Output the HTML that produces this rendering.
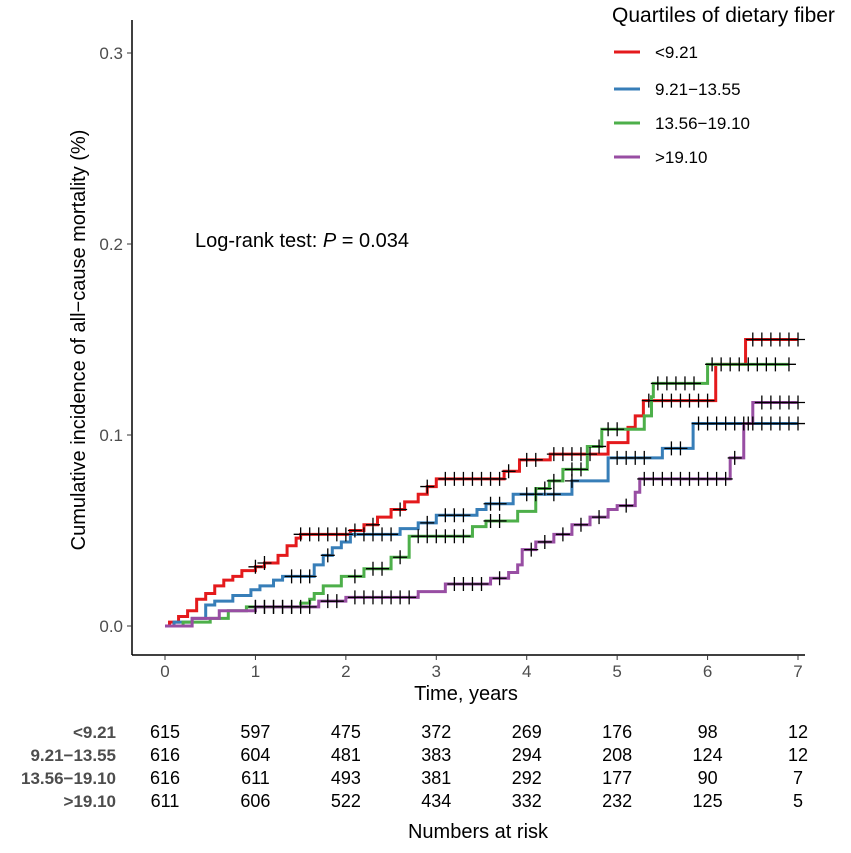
<!DOCTYPE html>
<html><head><meta charset="utf-8"><style>
body{margin:0;background:#fff;font-family:"Liberation Sans",Arial,sans-serif;}
svg text{font-family:"Liberation Sans",Arial,sans-serif;}
</style></head><body>
<svg id="chart" width="851" height="848" viewBox="0 0 851 848">
<g id="axes"></g>
<g id="series"></g>
<g id="marks"></g>
<text x="85" y="340" font-size="20" text-anchor="middle" transform="rotate(-90 85 340)">Cumulative incidence of all−cause mortality (%)</text>
<text x="466" y="700" font-size="20" text-anchor="middle">Time, years</text>
<text x="195" y="247" font-size="20">Log-rank test: <tspan font-style="italic">P</tspan> = 0.034</text>
<text x="612" y="22" font-size="21">Quartiles of dietary fiber</text>
<g id="legend"></g>
<g id="risk"></g>
<text x="478" y="838" font-size="20" text-anchor="middle">Numbers at risk</text>
</svg>
<script>
const groups=["<9.21","9.21−13.55","13.56−19.10",">19.10"];
const colors=["#e41a1c","#377eb8","#4daf4a","#984ea3"];
const xTicks=[0,1,2,3,4,5,6,7];
const yTicks=[0.0,0.1,0.2,0.3];
const yTickLabels=["0.0","0.1","0.2","0.3"];
const redT=[0,0.05,0.15,0.25,0.35,0.45,0.55,0.65,0.75,0.85,1.0,1.1,1.25,1.35,1.45,1.5,2.05,2.2,2.35,2.5,2.65,2.8,2.9,3.0,3.75,3.92,4.26,4.9,5.12,5.2,5.29,6.09,6.42];
const redV=[0,0.002,0.005,0.008,0.014,0.017,0.021,0.024,0.026,0.029,0.031,0.033,0.037,0.042,0.046,0.048,0.050,0.053,0.057,0.061,0.065,0.069,0.073,0.077,0.081,0.087,0.090,0.096,0.104,0.110,0.118,0.137,0.150];
const blueT=[0,0.1,0.3,0.45,0.55,0.75,0.95,1.05,1.2,1.3,1.65,1.75,1.85,1.95,2.05,2.6,2.8,3.0,3.45,3.55,3.85,4.5,4.9,5.5,5.84];
const blueV=[0,0.002,0.004,0.011,0.013,0.016,0.019,0.021,0.024,0.026,0.032,0.037,0.041,0.044,0.048,0.051,0.054,0.058,0.061,0.064,0.069,0.076,0.088,0.093,0.106];
const greenT=[0,0.2,0.5,0.7,0.9,1.0,1.5,1.6,1.65,1.75,1.95,2.2,2.5,2.7,3.4,3.55,3.9,4.1,4.25,4.4,4.67,4.83,5.3,5.38,5.4,6.0];
const greenV=[0,0.002,0.004,0.008,0.010,0.010,0.012,0.014,0.017,0.021,0.026,0.030,0.036,0.047,0.052,0.055,0.060,0.072,0.076,0.082,0.094,0.103,0.110,0.120,0.127,0.137];
const purpleT=[0,0.3,0.6,1.0,1.7,2.0,2.8,3.1,3.6,3.8,3.9,3.95,4.1,4.3,4.5,4.7,4.9,5.0,5.2,5.25,6.25,6.4,6.5];
const purpleV=[0,0.004,0.008,0.010,0.013,0.015,0.018,0.022,0.025,0.028,0.032,0.040,0.044,0.048,0.053,0.057,0.061,0.063,0.070,0.077,0.088,0.106,0.117];
const redC=[1.0,1.1,1.5,1.6,1.7,1.8,1.9,2.0,2.1,2.3,2.6,2.9,3.1,3.2,3.3,3.4,3.5,3.6,3.7,3.8,4.0,4.1,4.3,4.4,4.5,4.6,4.7,5.35,5.5,5.6,5.7,5.8,5.9,6.0,6.5,6.6,6.7,6.8,6.9,7.0];
const blueC=[1.4,1.5,1.6,1.8,2.2,2.3,2.4,2.5,2.9,3.1,3.2,3.3,3.6,3.7,4.0,4.1,4.3,4.5,5.0,5.1,5.2,5.3,5.6,5.7,5.9,6.0,6.1,6.2,6.3,6.4,6.5,6.6,6.7,6.8,6.9,7.0];
const greenC=[1.0,1.1,1.2,1.3,1.4,2.1,2.3,2.4,2.6,2.8,2.9,3.0,3.1,3.2,3.3,3.6,3.7,4.2,4.3,4.5,4.6,4.8,4.9,5.0,5.45,5.55,5.65,5.75,5.85,6.05,6.15,6.25,6.35,6.45,6.55,6.65,6.75,6.9];
const purpleC=[1.0,1.1,1.2,1.3,1.4,1.5,1.6,1.8,1.9,2.1,2.2,2.3,2.4,2.5,2.6,2.7,3.2,3.3,3.4,3.5,3.7,4.05,4.2,4.4,4.6,4.8,5.1,5.3,5.4,5.5,5.6,5.7,5.8,5.9,6.0,6.1,6.2,6.3,6.45,6.6,6.7,6.8,6.9,7.0];
const risk=[[615,597,475,372,269,176,98,12],[616,604,481,383,294,208,124,12],[616,611,493,381,292,177,90,7],[611,606,522,434,332,232,125,5]];
const seriesT=[redT,blueT,greenT,purpleT];
const seriesV=[redV,blueV,greenV,purpleV];
const censT=[redC,blueC,greenC,purpleC];
const xs=t=>165+t*90.43, ys=v=>626-v*1910;
const NS="http://www.w3.org/2000/svg";
function mk(tag,attrs,parent,txt){const e=document.createElementNS(NS,tag);for(const k in attrs)e.setAttribute(k,attrs[k]);if(txt!==undefined)e.textContent=txt;parent.appendChild(e);return e;}
const ax=document.getElementById('axes');
let l=mk('line',{x1:132,y1:20,x2:132,y2:655,stroke:'#000','stroke-width':1.5},ax);


l=mk('line',{x1:132,y1:655,x2:805,y2:655,stroke:'#000','stroke-width':1.5},ax);


yTicks.forEach((v,i)=>{const y=ys(v);
 mk('line',{x1:127,y1:y,x2:132,y2:y,stroke:'#333','stroke-width':1},ax);
 const t=mk('text',{x:123,y:y+6,'font-size':17,'text-anchor':'end',fill:'#4d4d4d'},ax,yTickLabels[i]);
 
 });
xTicks.forEach(v=>{const x=xs(v);
 mk('line',{x1:x,y1:655,x2:x,y2:660,stroke:'#333','stroke-width':1},ax);
 const t=mk('text',{x:x,y:677,'font-size':17,'text-anchor':'middle',fill:'#4d4d4d'},ax,String(v));
 
 });
const sg=document.getElementById('series'), mg=document.getElementById('marks');
function stepVal(T,V,t){let v=V[0];for(let i=0;i<T.length;i++){if(T[i]<=t)v=V[i];}return v;}
seriesT.forEach((T,s)=>{const V=seriesV[s];const end=Math.max(...censT[s]);
 let d='M'+xs(T[0])+','+ys(V[0]);
 for(let i=1;i<T.length;i++){d+=' H'+xs(T[i])+' V'+ys(V[i]);}
 d+=' H'+xs(end);
 const p=mk('path',{d:d,fill:'none',stroke:colors[s],'stroke-width':3},sg);
 
 
 censT[s].forEach(t=>{const x=xs(t),y=ys(stepVal(T,V,t));
  const c=mk('path',{d:`M${x-7},${y}H${x+7}M${x},${y-7}V${y+7}`,stroke:'#000','stroke-width':1.3},mg);
  
  });
});
const lg=document.getElementById('legend');
const legY=[52,89,123,157];
groups.forEach((g,i)=>{
 const ln=mk('line',{x1:614,y1:legY[i],x2:640,y2:legY[i],stroke:colors[i],'stroke-width':3},lg);
 
 
 const t=mk('text',{x:655,y:legY[i]+6,'font-size':17},lg,g);
 
 });
const rg=document.getElementById('risk');
const rowY=[738,761,784,807];
groups.forEach((g,i)=>{
 const t=mk('text',{x:116,y:rowY[i],'font-size':17,'font-weight':'bold','text-anchor':'end',fill:'#4d4d4d'},rg,g);
 
 
 risk[i].forEach((n,j)=>{const c=mk('text',{x:xs(xTicks[j]),y:rowY[i],'font-size':18,'text-anchor':'middle'},rg,String(n));
  
  });
});
</script>
</body></html>
